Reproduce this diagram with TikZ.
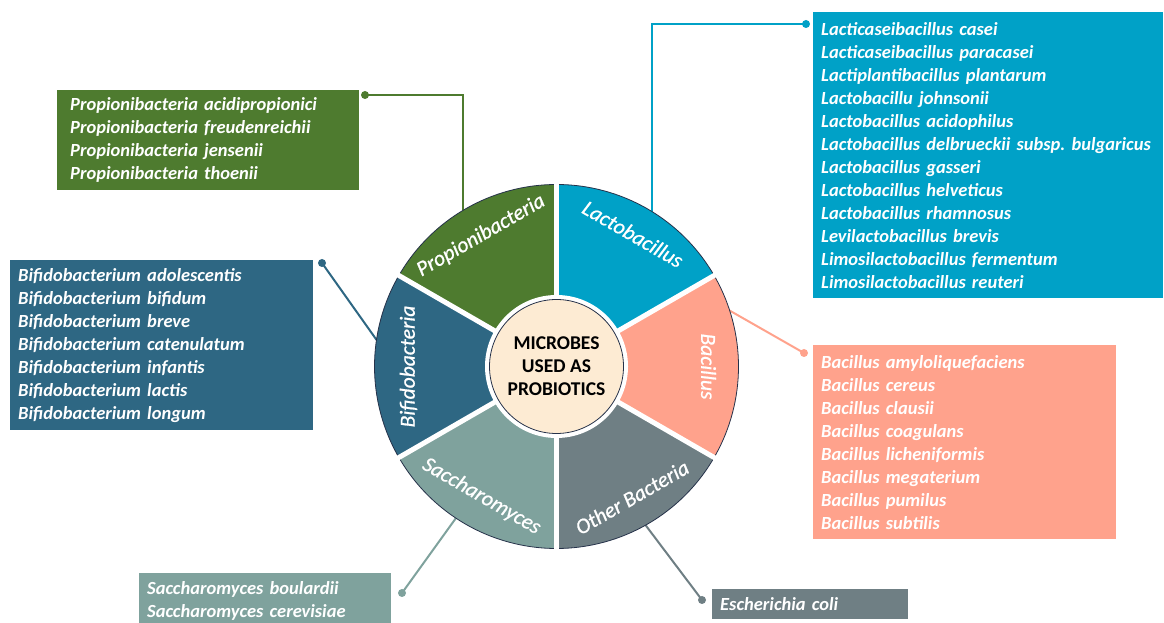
\documentclass[tikz,border=0pt]{standalone}
\usepackage{fontspec}
\setmainfont{Carlito}
\newfontface\secfont{Carlito Italic}[FakeBold=0.8]
\usetikzlibrary{calc}
\frenchspacing
\definecolor{cprop}{HTML}{4E7B2F}
\definecolor{clacto}{HTML}{00A1C7}
\definecolor{cbac}{HTML}{FFA28C}
\definecolor{cother}{HTML}{6F7F84}
\definecolor{csacc}{HTML}{7FA29D}
\definecolor{cbifi}{HTML}{2E6783}
\definecolor{ccream}{HTML}{FDEBD3}
\definecolor{outl}{HTML}{26324A}
\begin{document}
\begin{tikzpicture}[x=1pt,y=1pt,
  boxnode/.style={anchor=north west, inner xsep=8pt, inner ysep=0pt, align=left, text=white,
    font=\fontsize{18.5}{23}\selectfont\bfseries\itshape},
  seclabel/.style={text=white, inner sep=0pt, font=\fontsize{21.5}{24}\secfont},
  conn/.style={line width=2pt},
  dotnode/.style={circle, inner sep=0pt, minimum size=8pt}
]
\useasboundingbox (0,0) rectangle (1164,623);
\coordinate (c) at (556.5,256.5);

% connector end points on the ring
\coordinate (pe) at (463,412.6);
\coordinate (le) at (652,411.4);
\coordinate (be) at (376.5,283.2);
\coordinate (bae) at (729.5,312.5);
\coordinate (se) at (456,105);
\coordinate (oe) at (645.6,97.8);

% dots
\node[dotnode, fill=cprop] (pd) at (365,528) {};
\node[dotnode, fill=clacto] (ld) at (806,599) {};
\node[dotnode, fill=cbifi] (bd) at (322,360) {};
\node[dotnode, fill=cbac] (bad) at (804,270) {};
\node[dotnode, fill=csacc] (sd) at (402,30) {};
\node[dotnode, fill=cother] (od) at (702,23) {};

% connectors
\draw[conn, cprop] (pd.center) -| (pe);
\draw[conn, clacto] (ld.center) -| (le);
\draw[conn, cbifi] (bd.center) -- (be);
\draw[conn, cbac] (bad.center) -- (bae);
\draw[conn, csacc] (sd.center) -- (se);
\draw[conn, cother] (od.center) -- (oe);

% ring sectors
\foreach \a/\col in {30/clacto, 90/cprop, 150/cbifi, 210/csacc, 270/cother, -30/cbac}{
  \pgfmathsetmacro{\b}{\a+60}
  \fill[\col] (c) -- ($(c)+(\a:182)$) arc[start angle=\a, end angle=\b, radius=182] -- cycle;
  \draw[outl, line width=0.8pt] ($(c)+(\a:182)$) arc[start angle=\a, end angle=\b, radius=182];
}
\foreach \a in {30,90,150,210,270,330}{
  \draw[white, line width=5pt] (c) -- ($(c)+(\a:190)$);
}

% centre
\node[circle, fill=white, minimum size=143pt, inner sep=0pt] (cw) at (c) {};
\node[circle, fill=ccream, draw=outl, line width=0.8pt, minimum size=134pt, inner sep=0pt,
  align=center, font=\fontsize{19.5}{23}\selectfont\bfseries] (centre) at (c) {MICROBES\\USED AS\\PROBIOTICS};

% sector labels
\node[seclabel, rotate=30] (lprop) at ($(c)+(120:151)$) {Propionibacteria};
\node[seclabel, rotate=-30] (llacto) at ($(c)+(60:153)$) {Lactobacillus};
\node[seclabel, rotate=-90] (lbac) at ($(c)+(0:152)$) {Bacillus};
\node[seclabel, rotate=30] (lother) at ($(c)+(-60:151)$) {Other Bacteria};
\node[seclabel, rotate=-30] (lsacc) at ($(c)+(240:150)$) {Saccharomyces};
\node[seclabel, rotate=90] (lbifi) at ($(c)+(180:148)$) {Bifidobacteria};

% boxes
\node[boxnode, fill=cprop, inner xsep=13pt, text width=276pt, minimum height=100pt] (bprop) at (57,533)
 {Propionibacteria acidipropionici\\Propionibacteria freudenreichii\\Propionibacteria jensenii\\Propionibacteria thoenii};
\node[boxnode, fill=clacto, text width=334pt, minimum height=286pt] (blacto) at (813,611)
 {Lacticaseibacillus casei\\Lacticaseibacillus paracasei\\Lactiplantibacillus plantarum\\Lactobacillu johnsonii\\Lactobacillus acidophilus\\Lactobacillus delbrueckii subsp. bulgaricus\\Lactobacillus gasseri\\Lactobacillus helveticus\\Lactobacillus rhamnosus\\Levilactobacillus brevis\\Limosilactobacillus fermentum\\Limosilactobacillus reuteri};
\node[boxnode, fill=cbifi, text width=287pt, minimum height=170pt] (bbifi) at (10,363)
 {Bifidobacterium adolescentis\\Bifidobacterium bifidum\\Bifidobacterium breve\\Bifidobacterium catenulatum\\Bifidobacterium infantis\\Bifidobacterium lactis\\Bifidobacterium longum};
\node[boxnode, fill=cbac, text width=287pt, minimum height=194pt] (bbac) at (813,278)
 {Bacillus amyloliquefaciens\\Bacillus cereus\\Bacillus clausii\\Bacillus coagulans\\Bacillus licheniformis\\Bacillus megaterium\\Bacillus pumilus\\Bacillus subtilis};
\node[boxnode, fill=csacc, text width=236pt, minimum height=56pt] (bsacc) at (139,50)
 {Saccharomyces boulardii\\Saccharomyces cerevisiae};
\node[boxnode, fill=cother, text width=180pt, minimum height=30pt] (bother) at (712,34)
 {Escherichia coli};
\end{tikzpicture}
\end{document}
